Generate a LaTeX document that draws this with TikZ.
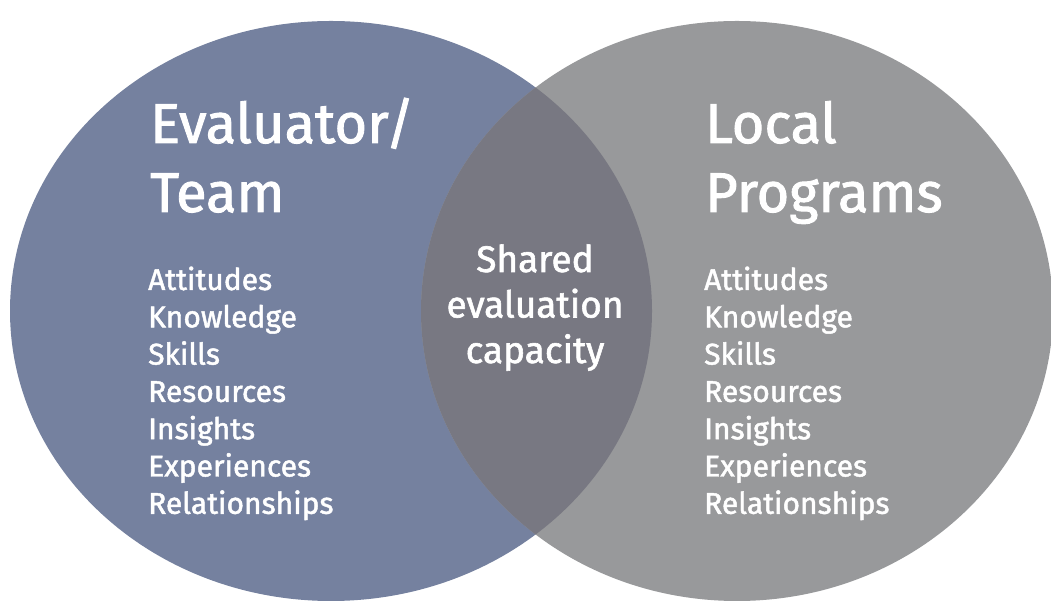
\documentclass[tikz,border=0pt]{standalone}
\usepackage{fontspec}
\setmainfont{Fira Sans}
\newfontfamily\medfont{Fira Sans}[UprightFeatures={FakeBold=1.6}]
\usepackage{xcolor}
\usepackage{tikz}

\definecolor{evalblue}{RGB}{117,129,159}
\definecolor{localgray}{RGB}{152,153,155}
\definecolor{sharedgray}{RGB}{120,120,130}

\tikzset{
    headtext/.style={text=white, inner sep=0pt, anchor=base west, font=\medfont\fontsize{56}{60}\selectfont},
    listtext/.style={text=white, inner sep=0pt, anchor=base west, font=\medfont\fontsize{30}{34}\selectfont},
    sharedtext/.style={text=white, inner sep=0pt, anchor=base, font=\medfont\fontsize{37}{40}\selectfont}
}

\begin{document}
\begin{tikzpicture}[x=1pt,y=1pt]
    \useasboundingbox (0,0) rectangle (1051,601);
    % the two circles and their overlap
    \fill[evalblue] (331,290) ellipse [x radius=321, y radius=290];
    \fill[localgray] (737,290) ellipse [x radius=316, y radius=290];
    \begin{scope}
        \clip (331,290) ellipse [x radius=321, y radius=290];
        \fill[sharedgray] (737,290) ellipse [x radius=316, y radius=290];
    \end{scope}
    % headings
    \node[headtext] (evalA) at (150,458) {Evaluator/};
    \node[headtext] (evalB) at (150,389) {Team};
    \node[headtext] (localA) at (705,458) {Local};
    \node[headtext] (localB) at (705,389) {Programs};
    % shared part
    \node[sharedtext] (sharedA) at (535,329) {Shared};
    \node[sharedtext] (sharedB) at (535,283.5) {evaluation};
    \node[sharedtext] (sharedC) at (535,238) {capacity};
    % lists
    \foreach \w [count=\i] in {Attitudes,Knowledge,Skills,Resources,Insights,Experiences,Relationships}{
        \node[listtext] (evalitem\i) at (148,{311-(\i-1)*37.3}) {\w};
        \node[listtext] (localitem\i) at (704,{311-(\i-1)*37.3}) {\w};
    }
\end{tikzpicture}
\end{document}
